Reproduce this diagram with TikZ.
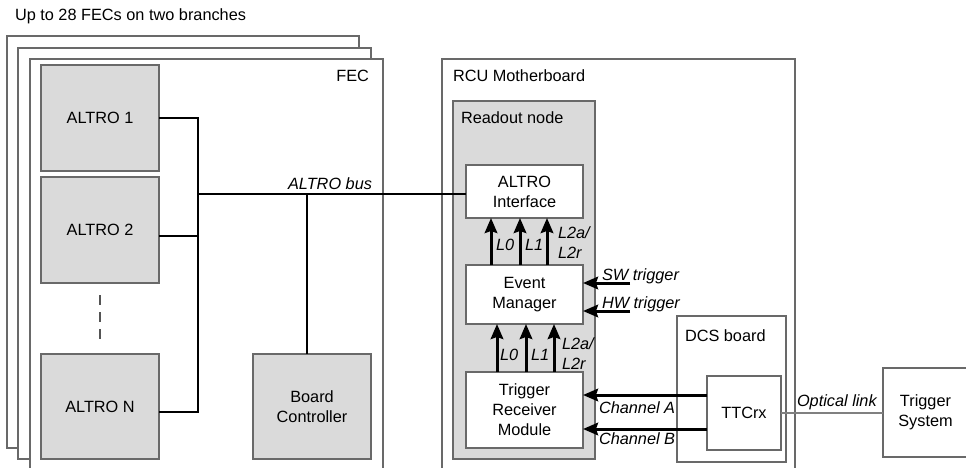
\documentclass[tikz,border=0pt]{standalone}
\usepackage{fontspec}
\setmainfont{Liberation Sans}
\usetikzlibrary{arrows.meta}
\definecolor{bord}{RGB}{105,105,105}
\definecolor{boxfill}{RGB}{218,218,218}
\definecolor{optic}{RGB}{128,128,128}
\begin{document}
\begin{tikzpicture}[x=1pt,y=-1pt,
  font=\fontsize{16.3}{20}\selectfont,
  board/.style={draw=bord, line width=1.1pt, fill=white, inner sep=0pt, outer sep=0pt, anchor=north west},
  chip/.style={board, fill=boxfill, align=center},
  wbox/.style={board, fill=white, align=center},
  bus/.style={line width=2.8pt, black},
  arr/.style={line width=3pt, black, -{Stealth[length=15pt,width=12.5pt,inset=2pt]}},
  lbl/.style={inner sep=0pt, outer sep=0pt},
  ilbl/.style={lbl, font=\fontsize{16.3}{20}\selectfont\itshape, align=left},
  dashline/.style={line width=1.6pt, bord!80!black, dash pattern=on 10pt off 7pt}]
\clip (0,0) rectangle (966,467);
\fill[white] (0,0) rectangle (966,467);

% title
\node[lbl, anchor=west] (title) at (15,16) {Up to 28 FECs on two branches};

% stacked FEC boards
\node[board, minimum width=352pt, minimum height=412pt] (fec3) at (7,36) {};
\node[board, minimum width=353pt, minimum height=411pt] (fec2) at (18,48) {};
\node[board, minimum width=353pt, minimum height=430pt] (fec) at (30,59) {};
\node[lbl, anchor=east] (feclbl) at (369,76) {FEC};

% chips on FEC
\node[chip, minimum width=118pt, minimum height=106pt] (altro1) at (41,65) {ALTRO 1};
\node[chip, minimum width=118pt, minimum height=106pt] (altro2) at (41,177) {ALTRO 2};
\node[chip, minimum width=118pt, minimum height=105pt] (altroN) at (41,354) {ALTRO N};
\node[chip, minimum width=118pt, minimum height=105pt] (bc) at (253,354) {Board\\Controller};

% RCU motherboard
\node[board, minimum width=353pt, minimum height=430pt] (rcu) at (442,59) {};
\node[lbl, anchor=west] (rculbl) at (453,76) {RCU Motherboard};
\node[chip, minimum width=142pt, minimum height=358pt] (readout) at (453,101) {};
\node[lbl, anchor=west] (readlbl) at (461,118) {Readout node};
\node[wbox, minimum width=117pt, minimum height=53pt] (ai) at (466,165) {ALTRO\\Interface};
\node[wbox, minimum width=117pt, minimum height=59pt] (em) at (466,265) {Event\\Manager};
\node[wbox, minimum width=117pt, minimum height=76pt] (trm) at (466,372) {Trigger\\Receiver\\Module};

% DCS board
\node[board, minimum width=109pt, minimum height=146pt] (dcs) at (677,316) {};
\node[lbl, anchor=west] (dcslbl) at (685,336) {DCS board};
\node[wbox, minimum width=74pt, minimum height=74pt] (ttc) at (707,376) {TTCrx};

% Trigger system
\node[wbox, minimum width=85pt, minimum height=89pt] (trig) at (883,368) {Trigger\\System};

% ALTRO bus
\coordinate (btop) at (198,118);
\coordinate (bbot) at (198,412);
\coordinate (bmid) at (198,194);
\coordinate (bcj) at (307,194);
\draw[bus] (altro1.east) -| (bbot) -- (bbot -| altroN.east);
\draw[bus] ([yshift=-6pt]altro2.east) -- ([yshift=-6pt]altro2.east -| bbot);
\draw[bus] (bmid) -- (bmid -| ai.west);
\draw[bus] (bcj) -- (bcj |- bc.north);
\node[ilbl, anchor=east] (buslbl) at (372,184) {ALTRO bus};

% dashed continuation
\draw[dashline] ([yshift=-12pt]altro2.south) -- ([yshift=12pt]altroN.north);

% EM -> ALTRO interface
\draw[arr] ([xshift=25pt]em.north west) -- ([xshift=25pt]ai.south west);
\draw[arr] ([xshift=54pt]em.north west) -- ([xshift=54pt]ai.south west);
\draw[arr] ([xshift=81pt]em.north west) -- ([xshift=81pt]ai.south west);
\node[ilbl, anchor=west] (u0) at (496,245) {L0};
\node[ilbl, anchor=west] (u1) at (525,245) {L1};
\node[ilbl, anchor=west] (u2) at (558,243) {L2a/\\L2r};

% TRM -> EM
\draw[arr] ([xshift=31pt]trm.north west) -- ([xshift=31pt]em.south west);
\draw[arr] ([xshift=60pt]trm.north west) -- ([xshift=60pt]em.south west);
\draw[arr] ([xshift=88pt]trm.north west) -- ([xshift=88pt]em.south west);
\node[ilbl, anchor=west] (d0) at (500,355) {L0};
\node[ilbl, anchor=west] (d1) at (531,355) {L1};
\node[ilbl, anchor=west] (d2) at (562,353.5) {L2a/\\L2r};

% SW / HW triggers
\coordinate (sw) at (630,283);
\coordinate (hw) at (630,311);
\draw[arr] (sw) -- (sw -| em.east);
\draw[arr] (hw) -- (hw -| em.east);
\node[ilbl, anchor=base west] (swlbl) at (602,280) {SW trigger};
\node[ilbl, anchor=base west] (hwlbl) at (602,308) {HW trigger};

% channels
\draw[arr] ([yshift=18pt]ttc.west) -- ([yshift=18pt]ttc.west -| trm.east);
\draw[arr] ([yshift=-16pt]ttc.west) -- ([yshift=-16pt]ttc.west -| trm.east);
\node[ilbl, anchor=west] (cha) at (599,408) {Channel A};
\node[ilbl, anchor=west] (chb) at (599,439) {Channel B};

% optical link
\draw[optic, line width=2.4pt] (ttc.east) -- (ttc.east -| trig.west);
\node[ilbl, anchor=west] (optlbl) at (797,402) {Optical link};
\end{tikzpicture}
\end{document}
